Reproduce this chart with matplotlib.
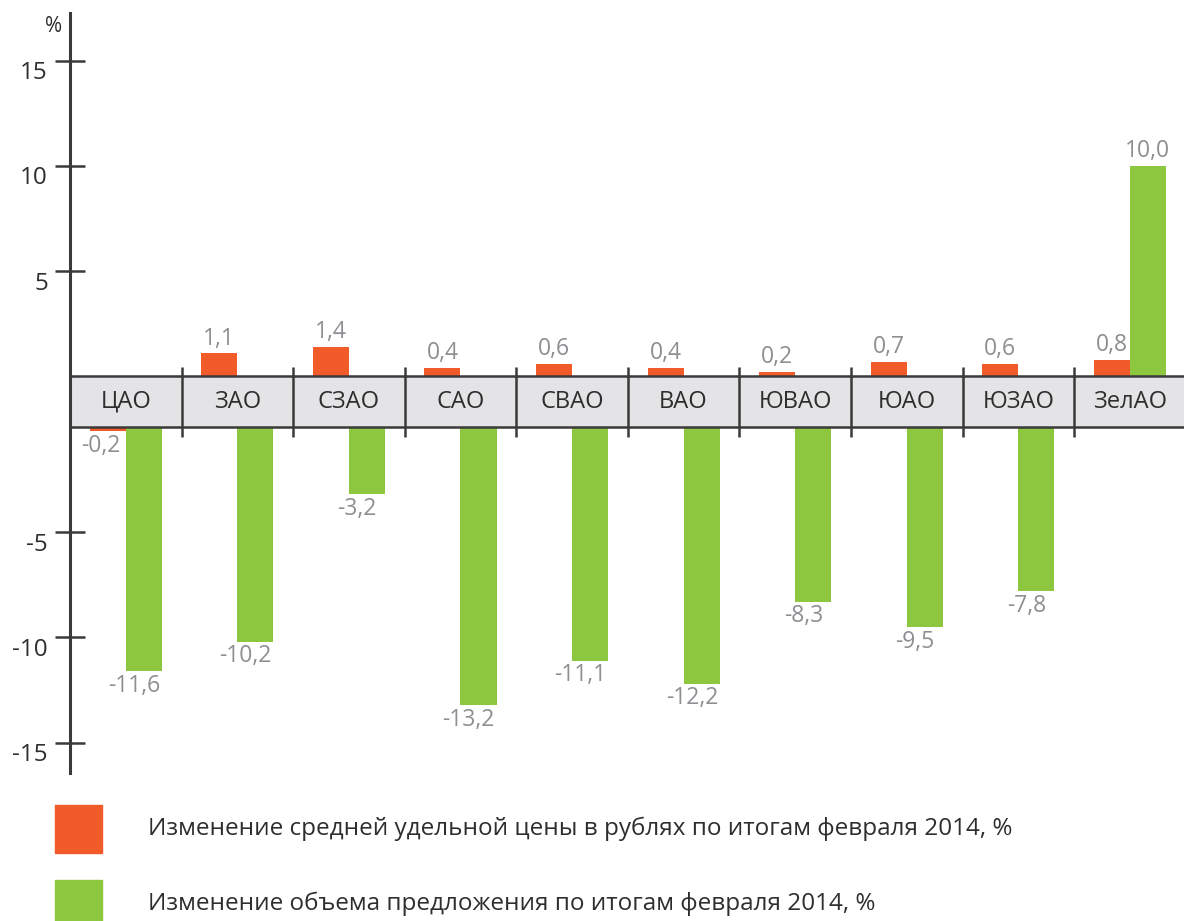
import matplotlib
matplotlib.use("Agg")
import matplotlib.pyplot as plt
from matplotlib.patches import Rectangle

plt.rcParams['font.family'] = ['Open Sans', 'DejaVu Sans']

categories = ["ЦАО", "ЗАО", "СЗАО", "САО", "СВАО", "ВАО", "ЮВАО", "ЮАО", "ЮЗАО", "ЗелАО"]
price_change = [-0.2, 1.1, 1.4, 0.4, 0.6, 0.4, 0.2, 0.7, 0.6, 0.8]
supply_change = [-11.6, -10.2, -3.2, -13.2, -11.1, -12.2, -8.3, -9.5, -7.8, 10.0]
yticks_values = [15, 10, 5, -5, -10, -15]
legend_labels = ["Изменение средней удельной цены в рублях по итогам февраля 2014, %",
                 "Изменение объема предложения по итогам февраля 2014, %"]

ORANGE = "#f15a29"
GREEN = "#8dc63f"
LABEL_GRAY = "#8e8e93"
DARK = "#2e2e2e"
BAND = "#e4e4e6"

W, H = 1184, 921
DPI = 100
fig = plt.figure(figsize=(W / DPI, H / DPI), dpi=DPI)

GAP = 2.39  # height of the category band in value units (broken axis)

def pos(v):
    return v if v >= 0 else v - GAP

ax = fig.add_axes([70 / W, (H - 773) / H, (W - 70) / W, (773 - 13) / H])
ax.set_xlim(-0.5, 9.485)
ax.set_ylim(-18.83, 17.26)
for s in ["top", "right", "bottom"]:
    ax.spines[s].set_visible(False)
ax.spines["left"].set_color("#3a3a3a")
ax.spines["left"].set_linewidth(2.2)
ax.set_xticks([])
ax.set_yticks([pos(v) for v in yticks_values])
ax.set_yticklabels([])
ax.tick_params(axis='y', direction='inout', length=21, width=1.8, color="#3a3a3a")

# tick labels (placed slightly below the ticks)
for v in yticks_values:
    ax.annotate(str(v), xy=(-0.5, pos(v)), xytext=(-16, -9), textcoords='offset points',
                ha='right', va='center', fontsize=17.5, color=DARK, annotation_clip=False)
ax.annotate("%", xy=(-0.5, 17.26), xytext=(-6, -10), textcoords='offset points',
            ha='right', va='center', fontsize=15, color=DARK, annotation_clip=False)

# category band
ax.axhspan(-GAP, 0, color=BAND, zorder=1)
ax.axhline(0, color="#3a3a3a", lw=1.8, zorder=3)
ax.axhline(-GAP, color="#3a3a3a", lw=1.8, zorder=3)
ext = 0.47
for i in range(len(categories) - 1):
    ax.plot([i + 0.5, i + 0.5], [ext, -GAP - ext], color="#3a3a3a", lw=1.8, zorder=3,
            solid_capstyle='butt')
for i, c in enumerate(categories):
    ax.text(i, -GAP / 2, c, ha='center', va='center', fontsize=17, color=DARK, zorder=4)

bw = 0.323
xs = list(range(len(categories)))

def draw_series(vals, offset, color, label_dx):
    for x, v in zip(xs, vals):
        xc = x + offset
        if v >= 0:
            ax.bar(xc, v, width=bw, bottom=0, color=color, zorder=2)
            ax.annotate(f"{v:.1f}".replace(".", ","), xy=(xc, v), xytext=(0, 2),
                        textcoords='offset points', ha='center', va='bottom',
                        fontsize=16.5, color=LABEL_GRAY)
        else:
            ax.bar(xc, v, width=bw, bottom=-GAP, color=color, zorder=2)
            ax.annotate(f"{v:.1f}".replace(".", ","), xy=(xc, v - GAP), xytext=(label_dx, -2),
                        textcoords='offset points', ha='center', va='top',
                        fontsize=16.5, color=LABEL_GRAY)

draw_series(price_change, -bw / 2, ORANGE, -5)
draw_series(supply_change, bw / 2, GREEN, -7)

# legend
sq = 47
for (y0, col, lab) in [(805, ORANGE, legend_labels[0]), (880, GREEN, legend_labels[1])]:
    fig.patches.append(Rectangle((55 / W, 1 - (y0 + 48) / H), sq / W, 48 / H,
                                 transform=fig.transFigure, color=col, figure=fig))
    fig.text(148 / W, 1 - (y0 + 24) / H, lab, ha='left', va='center',
             fontsize=17.5, color=DARK)

fig.savefig("out.png", dpi=DPI, facecolor="white")
